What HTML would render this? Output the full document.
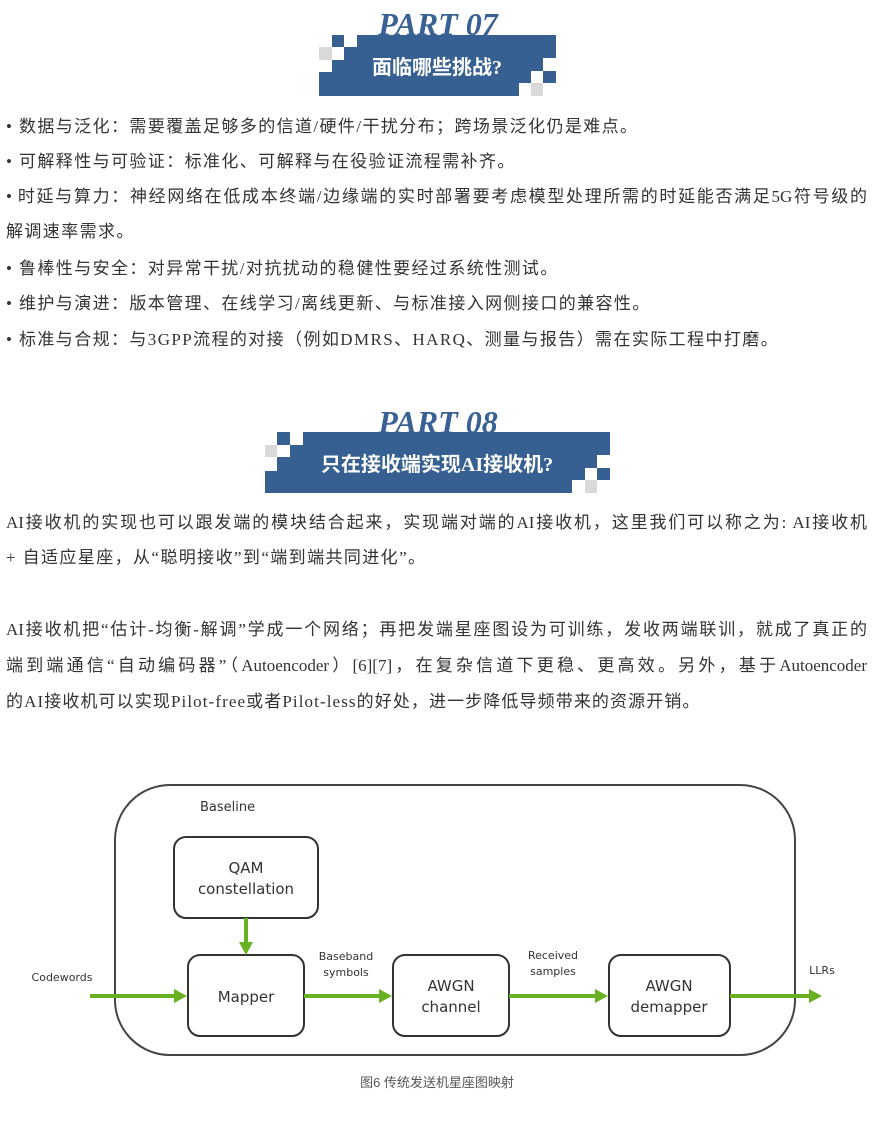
<!DOCTYPE html>
<html><head><meta charset="utf-8"><style>
body{margin:0;width:885px;height:1127px;background:#fff;position:relative;overflow:hidden;font-family:"Liberation Serif","Noto Sans CJK SC",serif;color:#333;}
.l{position:absolute;left:6px;font-size:17px;letter-spacing:1.4px;white-space:nowrap;line-height:20px;}
.j{width:861px;text-align:justify;text-align-last:justify;letter-spacing:0;}
.b{position:absolute;background:#376092;}
.w{position:absolute;background:#fff;}
.g{position:absolute;background:#d9d9d9;}
.part{position:absolute;font:italic bold 32px "Liberation Serif",serif;color:#3a6193;width:300px;text-align:center;}
.bt{position:absolute;color:#fff;font:bold 20px "Liberation Serif","Noto Sans CJK SC",sans-serif;text-align:center;white-space:nowrap;}
</style></head><body>
<div class="part" style="left:288px;top:6px;">PART 07</div>
<div class="b" style="left:357px;top:35px;width:199px;height:61px"></div>
<div class="b" style="left:319px;top:72px;width:38px;height:24px"></div>
<div class="b" style="left:332px;top:35px;width:12px;height:12px"></div>
<div class="g" style="left:319px;top:47px;width:13px;height:13px"></div>
<div class="b" style="left:332px;top:60px;width:12px;height:12px"></div>
<div class="b" style="left:344px;top:47px;width:13px;height:25px"></div>
<div class="w" style="left:543px;top:58px;width:13px;height:13px"></div>
<div class="w" style="left:531px;top:71px;width:12px;height:12px"></div>
<div class="w" style="left:519px;top:83px;width:12px;height:13px"></div>
<div class="g" style="left:531px;top:83px;width:12px;height:13px"></div>
<div class="w" style="left:543px;top:83px;width:13px;height:13px"></div>
<div class="bt" style="left:357px;top:51px;width:160px;">面临哪些挑战?</div>

<div class="l" style="top:117px">• 数据与泛化：需要覆盖足够多的信道/硬件/干扰分布；跨场景泛化仍是难点。</div>
<div class="l" style="top:152px">• 可解释性与可验证：标准化、可解释与在役验证流程需补齐。</div>
<div class="l j" style="top:187px">• 时延与算力：神经网络在低成本终端/边缘端的实时部署要考虑模型处理所需的时延能否满足5G符号级的</div>
<div class="l" style="top:222px">解调速率需求。</div>
<div class="l" style="top:259px">• 鲁棒性与安全：对异常干扰/对抗扰动的稳健性要经过系统性测试。</div>
<div class="l" style="top:294px">• 维护与演进：版本管理、在线学习/离线更新、与标准接入网侧接口的兼容性。</div>
<div class="l" style="top:330px">• 标准与合规：与3GPP流程的对接（例如DMRS、HARQ、测量与报告）需在实际工程中打磨。</div>

<div class="part" style="left:288px;top:404px;">PART 08</div>
<div class="b" style="left:303px;top:432px;width:307px;height:61px"></div>
<div class="b" style="left:265px;top:471px;width:38px;height:22px"></div>
<div class="b" style="left:277px;top:432px;width:13px;height:13px"></div>
<div class="g" style="left:265px;top:445px;width:12px;height:12px"></div>
<div class="b" style="left:277px;top:457px;width:13px;height:14px"></div>
<div class="b" style="left:290px;top:445px;width:13px;height:26px"></div>
<div class="w" style="left:597px;top:455px;width:13px;height:13px"></div>
<div class="w" style="left:585px;top:468px;width:12px;height:12px"></div>
<div class="w" style="left:572px;top:480px;width:13px;height:13px"></div>
<div class="g" style="left:585px;top:480px;width:12px;height:13px"></div>
<div class="w" style="left:597px;top:480px;width:13px;height:13px"></div>
<div class="bt" style="left:303px;top:448px;width:268px;">只在接收端实现AI接收机?</div>

<div class="l j" style="top:513px">AI接收机的实现也可以跟发端的模块结合起来，实现端对端的AI接收机，这里我们可以称之为: AI接收机</div>
<div class="l" style="top:548px">+ 自适应星座，从“聪明接收”到“端到端共同进化”。</div>
<div class="l j" style="top:620px">AI接收机把“估计-均衡-解调”学成一个网络；再把发端星座图设为可训练，发收两端联训，就成了真正的</div>
<div class="l j" style="top:656px">端到端通信“自动编码器”（Autoencoder）[6][7]，在复杂信道下更稳、更高效。另外，基于Autoencoder</div>
<div class="l" style="top:692px;letter-spacing:1.1px">的AI接收机可以实现Pilot-free或者Pilot-less的好处，进一步降低导频带来的资源开销。</div>

<svg style="position:absolute;left:0;top:0" width="885" height="1127">
<g font-family="DejaVu Sans, sans-serif" fill="#333">
<rect x="115" y="785" width="680" height="270" rx="55" fill="none" stroke="#444" stroke-width="2"/>
<text x="200" y="811" font-size="13">Baseline</text>
<g fill="#fff" stroke="#333" stroke-width="2">
<rect x="174" y="837" width="144" height="81" rx="12"/>
<rect x="188" y="955" width="116" height="81" rx="12"/>
<rect x="393" y="955" width="116" height="81" rx="12"/>
<rect x="609" y="955" width="121" height="81" rx="12"/>
</g>
<g font-size="15" text-anchor="middle">
<text x="246" y="873">QAM</text><text x="246" y="894">constellation</text>
<text x="246" y="1002">Mapper</text>
<text x="451" y="991">AWGN</text><text x="451" y="1012">channel</text>
<text x="669" y="991">AWGN</text><text x="669" y="1012">demapper</text>
</g>
<g font-size="11" text-anchor="middle">
<text x="62" y="981">Codewords</text>
<text x="346" y="960">Baseband</text><text x="346" y="976">symbols</text>
<text x="553" y="959">Received</text><text x="553" y="975">samples</text>
<text x="822" y="974">LLRs</text>
</g>
<g stroke="#6ab023" stroke-width="4" fill="#6ab023">
<line x1="90" y1="996" x2="175" y2="996"/><polygon points="174,989 187,996 174,1003" stroke="none"/>
<line x1="304" y1="996" x2="380" y2="996"/><polygon points="379,989 392,996 379,1003" stroke="none"/>
<line x1="509" y1="996" x2="596" y2="996"/><polygon points="595,989 608,996 595,1003" stroke="none"/>
<line x1="730" y1="996" x2="810" y2="996"/><polygon points="809,989 822,996 809,1003" stroke="none"/>
<line x1="246" y1="918" x2="246" y2="943"/><polygon points="239,942 246,955 253,942" stroke="none"/>
</g>
<text x="437" y="1087" font-size="13" text-anchor="middle" fill="#555" font-family="Liberation Sans, Noto Sans CJK SC, sans-serif">图6 传统发送机星座图映射</text>
</g>
</svg>
</body></html>
